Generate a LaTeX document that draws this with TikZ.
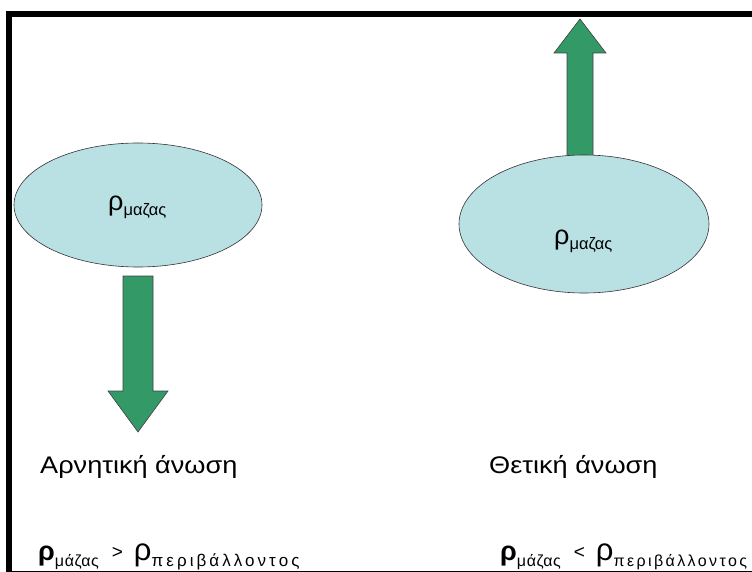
\documentclass[tikz,border=0pt]{standalone}
\usepackage{fontspec}
\setmainfont{Liberation Sans}
\definecolor{blob}{HTML}{B9E0E3}
\definecolor{arrowgreen}{HTML}{339966}
\newcommand{\spaced}[2]{{\addfontfeatures{LetterSpace=#1}#2}}
\begin{document}
\begin{tikzpicture}[x=1pt,y=-1pt,
  blobstyle/.style={draw=black!80,line width=0.6pt,fill=blob},
  arrowbody/.style={draw=black!75,line width=0.6pt,fill=arrowgreen},
  lbl/.style={anchor=base west,inner sep=0pt,font=\fontsize{24}{28}\selectfont}]
\useasboundingbox (0,0) rectangle (752,572);
% frame
\fill[black] (6,11) rectangle (752,17);
\fill[black] (6,11) rectangle (12,572);
\draw[black,line width=1pt] (12,571.5) -- (752,571.5);
% left arrow (down)
\draw[arrowbody] (123,276) -- (153,276) -- (153,391) -- (168,391) -- (138,432) -- (108,391) -- (123,391) -- cycle;
% right arrow (up)
\draw[arrowbody] (567,157) -- (593,157) -- (593,53) -- (606,53) -- (580,19) -- (554,53) -- (567,53) -- cycle;
% ellipses
\draw[blobstyle] (138,205) ellipse [x radius=124, y radius=62];
\draw[blobstyle] (584,224) ellipse [x radius=125, y radius=69];
\node[anchor=base west,inner sep=0pt] (t1) at (108,211) {\fontsize{27}{30}\selectfont ρ\raisebox{-5pt}{\fontsize{16.5}{18}\selectfont μαζας}};
\node[anchor=base west,inner sep=0pt] (t2) at (554,244) {\fontsize{27}{30}\selectfont ρ\raisebox{-5pt}{\fontsize{16.5}{18}\selectfont μαζας}};
% labels
\node[lbl] (neg) at (40,473) {\scalebox{1.13}[1]{Αρνητική άνωση}};
\node[lbl] (pos) at (489,473) {\scalebox{1.13}[1]{Θετική άνωση}};
\node[anchor=base west,inner sep=0pt] (f1) at (38,560) {\fontsize{27}{30}\selectfont\textbf{ρ}\raisebox{-6pt}{\fontsize{16}{18}\selectfont\spaced{4}{μάζας}}\hspace{13pt}\raisebox{2pt}{\fontsize{19}{20}\selectfont >}\hspace{11pt}{\fontsize{31}{32}\selectfont ρ}\raisebox{-6pt}{\fontsize{17}{18}\selectfont\spaced{18}{περιβάλλοντος}}};
\node[anchor=base west,inner sep=0pt] (f2) at (500,560) {\fontsize{27}{30}\selectfont\textbf{ρ}\raisebox{-6pt}{\fontsize{16}{18}\selectfont\spaced{4}{μάζας}}\hspace{13pt}\raisebox{2pt}{\fontsize{19}{20}\selectfont <}\hspace{11pt}{\fontsize{31}{32}\selectfont ρ}\raisebox{-6pt}{\fontsize{16}{18}\selectfont\spaced{15}{περιβάλλοντος}}};
\end{tikzpicture}
\end{document}
